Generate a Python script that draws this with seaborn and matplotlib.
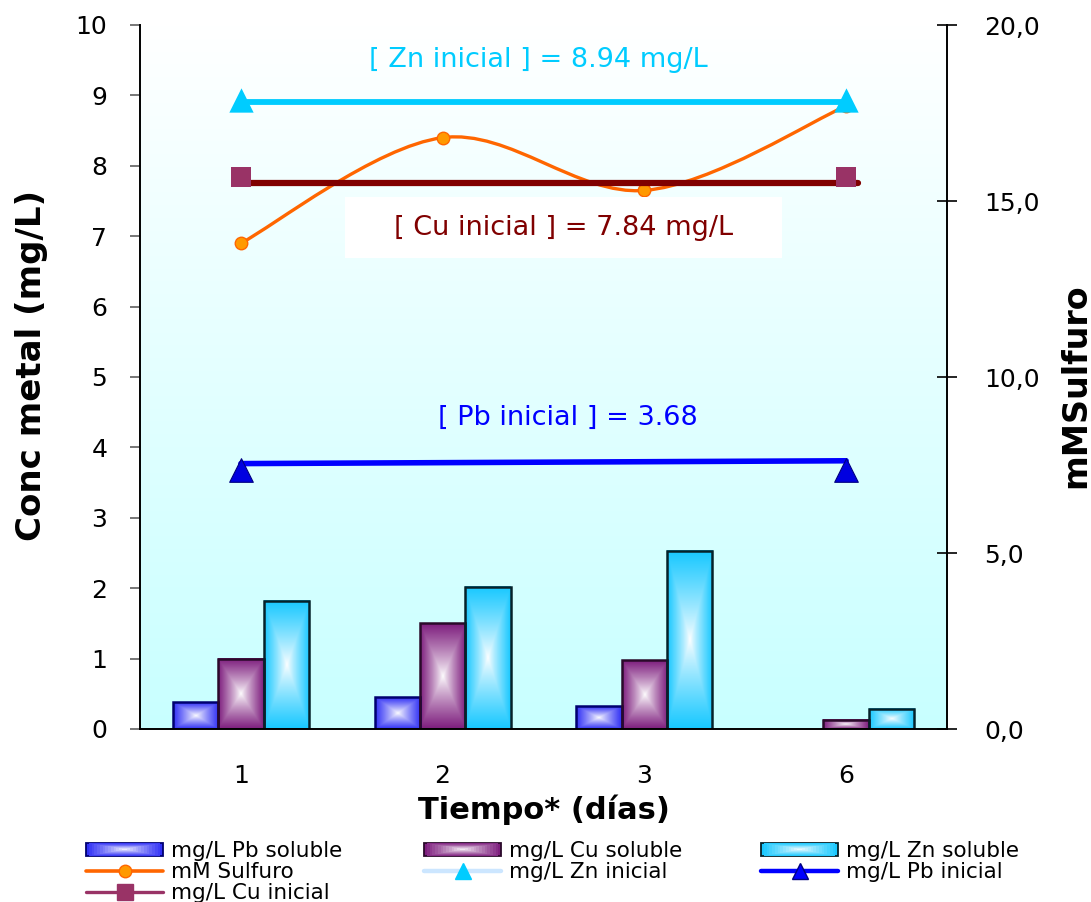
import numpy as np
import pandas as pd
import matplotlib
matplotlib.use("Agg")
import matplotlib.pyplot as plt
import seaborn as sns
import matplotlib.colors as mcolors
from matplotlib.path import Path
from matplotlib.patches import PathPatch, Rectangle
from matplotlib.lines import Line2D
from matplotlib.legend_handler import HandlerBase

# ---------------- data ----------------
tiempo = ["1", "2", "3", "6"]
pb_soluble = [0.38, 0.45, 0.32, 0.0]
cu_soluble = [1.00, 1.50, 0.98, 0.13]
zn_soluble = [1.82, 2.02, 2.53, 0.29]
mm_sulfuro = [13.8, 16.8, 15.3, 17.7]
zn_inicial = [8.94, np.nan, np.nan, 8.94]
pb_inicial = [3.68, np.nan, np.nan, 3.68]
cu_inicial = [7.84, np.nan, np.nan, 7.84]
# level lines drawn by hand on the original chart
zn_linea = [8.90, 8.90]
cu_linea = [7.76, 7.76]
pb_linea = [3.77, 3.81]

series = ["mg/L Pb soluble", "mg/L Cu soluble", "mg/L Zn soluble"]
left_ticks = list(range(0, 11))
right_ticks = [0, 5, 10, 15, 20]

# ---------------- style ----------------
sns.set_style("white")
plt.rcParams["font.family"] = ["DejaVu Sans"]
plt.rcParams["text.color"] = "black"
plt.rcParams["axes.labelcolor"] = "black"
plt.rcParams["xtick.color"] = "black"
plt.rcParams["ytick.color"] = "black"

bar_col = {"mg/L Pb soluble": "#3030F5", "mg/L Cu soluble": "#7E1E7E", "mg/L Zn soluble": "#18C8FF"}
bar_edge = {"mg/L Pb soluble": "#000070", "mg/L Cu soluble": "#2A0A2A", "mg/L Zn soluble": "#06222A"}

fig = plt.figure(figsize=(10.91, 9.02), dpi=100)
rect = [140 / 1091, 1 - 729 / 902, 807 / 1091, 704 / 902]

# background gradient
bg = fig.add_axes(rect, zorder=0)
grad = np.linspace(0, 1, 256)[:, None]
bg.imshow(grad, aspect="auto", extent=[0, 1, 0, 1], origin="upper",
          cmap=mcolors.LinearSegmentedColormap.from_list("bg", ["#FFFFFF", "#C8FFFF"]))
bg.axis("off")

ax = fig.add_axes(rect)
ax2 = ax.twinx()
ax.set_zorder(3)
ax2.set_zorder(2)
ax.patch.set_visible(False)
ax2.patch.set_visible(False)

# ---------------- bars ----------------
df = pd.DataFrame({
    "Tiempo": tiempo * 3,
    "Serie": [s for s in series for _ in tiempo],
    "Valor": pb_soluble + cu_soluble + zn_soluble,
})
sns.barplot(data=df, x="Tiempo", y="Valor", hue="Serie", order=tiempo, hue_order=series,
            palette=bar_col, width=0.673, gap=0, dodge=True, saturation=1,
            legend=False, ax=ax, linewidth=1.8)


def box_gradient(color, nx=80, ny=80, gamma=0.85):
    rgb = np.array(mcolors.to_rgb(color))
    u = np.abs(np.linspace(-1, 1, nx))
    v = np.abs(np.linspace(-1, 1, ny))
    t = np.maximum(u[None, :], v[:, None]) ** gamma
    return (1 - t)[..., None] * np.ones(3) + t[..., None] * rgb


for cont, s in zip(ax.containers, series):
    img = box_gradient(bar_col[s])
    for p in cont.patches:
        h = p.get_height()
        if h <= 0:
            p.set_visible(False)
            continue
        x0, y0, w = p.get_x(), p.get_y(), p.get_width()
        ax.imshow(img, extent=[x0, x0 + w, y0, y0 + h], origin="lower", aspect="auto",
                  interpolation="bilinear", zorder=1.5)
        p.set_facecolor("none")
        p.set_edgecolor(bar_edge[s])
        p.set_zorder(2)

# ---------------- hand-drawn level lines ----------------
sns.lineplot(x=[0, 3], y=zn_linea, ax=ax, color="#00CCFF", lw=4.2, zorder=4, legend=False)
sns.lineplot(x=[0.03, 3.06], y=cu_linea, ax=ax, color="#800000", lw=4.5, zorder=4, legend=False)
sns.lineplot(x=[0, 3], y=pb_linea, ax=ax, color="#0000FF", lw=4.0, zorder=4, legend=False)

pos = np.arange(len(tiempo))
sns.scatterplot(x=pos, y=zn_inicial, ax=ax, marker="^", s=17.5 ** 2, color="#00CCFF",
                linewidth=0, zorder=6, legend=False)
sns.scatterplot(x=pos, y=pb_inicial, ax=ax, marker="^", s=17 ** 2, color="#0000E0",
                edgecolor="#000080", linewidth=0.8, zorder=6, legend=False)
sns.scatterplot(x=pos, y=cu_inicial, ax=ax, marker="s", s=15 ** 2, color="#993366",
                linewidth=0, zorder=6, legend=False)

# ---------------- sulfuro (smoothed, secondary axis) ----------------
P = np.column_stack([pos.astype(float), np.array(mm_sulfuro)])
verts = [P[0]]
codes = [Path.MOVETO]
for i in range(len(P) - 1):
    p0 = P[i - 1] if i > 0 else P[i]
    p1, p2 = P[i], P[i + 1]
    p3 = P[i + 2] if i + 2 < len(P) else P[i + 1]
    verts += [p1 + (p2 - p0) / 6, p2 - (p3 - p1) / 6, p2]
    codes += [Path.CURVE4] * 3
ax2.add_patch(PathPatch(Path(verts, codes), fill=False, edgecolor="#FF6600", lw=2.4,
                        capstyle="round", zorder=3))
sns.scatterplot(x=pos, y=mm_sulfuro, ax=ax2, marker="o", s=9 ** 2, color="#FF9900",
                edgecolor="#FF6600", linewidth=1, zorder=4, legend=False)

# ---------------- annotations ----------------
ax.text(1.475, 9.50, "[ Zn inicial ] = 8.94 mg/L", color="#00CCFF", fontsize=19.5,
        ha="center", va="center", zorder=7)
ax.add_patch(Rectangle((0.515, 6.69), 2.168, 0.87, facecolor="white", edgecolor="none", zorder=3))
ax.text(1.60, 7.12, "[ Cu inicial ] = 7.84 mg/L", color="#800000", fontsize=19.5,
        ha="center", va="center", zorder=7)
ax.text(1.62, 4.42, "[ Pb inicial ] = 3.68", color="#0000FF", fontsize=19.5,
        ha="center", va="center", zorder=7)

# ---------------- axes ----------------
ax.set_xlim(-0.5, 3.5)
ax.set_ylim(0, 10)
ax2.set_ylim(0, 20)

ax.set_xticks(np.arange(-0.5, 4.0, 1.0))
ax.set_xticklabels([])
ax.set_xticks(pos, minor=True)
ax.set_xticklabels(tiempo, minor=True)
ax.tick_params(axis="x", which="major", direction="inout", length=13, width=1.2, color="black")
ax.tick_params(axis="x", which="minor", length=0, pad=25, labelsize=18)

ax.set_yticks(left_ticks)
ax.set_yticklabels([str(t) for t in left_ticks])
ax.tick_params(axis="y", which="major", direction="out", length=7.5, width=1.2,
               color="#606060", pad=16, labelsize=18, left=True, right=False)

ax2.set_yticks(right_ticks)
ax2.set_yticklabels([f"{t:.1f}".replace(".", ",") for t in right_ticks])
ax2.tick_params(axis="y", direction="inout", length=14, width=1.2, color="black",
                pad=20, labelsize=18)

for sp in ["top", "right"]:
    ax.spines[sp].set_visible(False)
for sp in ["top", "left", "bottom"]:
    ax2.spines[sp].set_visible(False)
for sp in ["left", "bottom"]:
    ax.spines[sp].set_color("black")
    ax.spines[sp].set_linewidth(1.4)
ax2.spines["right"].set_color("black")
ax2.spines["right"].set_linewidth(1.4)

ax.set_xlabel("Tiempo* (días)", fontsize=22, fontweight="bold")
ax.xaxis.set_label_coords(0.5, -0.093)
ax.set_ylabel("Conc metal (mg/L)", fontsize=24.5, fontweight="bold")
ax.yaxis.set_label_coords(-0.114, 0.517)
ax2.set_ylabel("mMSulfuro", fontsize=24, fontweight="bold", rotation=90)
ax2.yaxis.set_label_coords(1.139, 0.487)


# ---------------- legend ----------------
class GradHandler(HandlerBase):
    def __init__(self, color, edge):
        super().__init__()
        self.color = np.array(mcolors.to_rgb(color))
        self.edge = edge

    def create_artists(self, legend, orig_handle, xdescent, ydescent, width, height,
                       fontsize, trans):
        arts = []
        n = 14
        for k in range(n):
            f = k / n
            t = (1 - f) ** 0.85
            c = (1 - t) * np.ones(3) + t * self.color
            w = width * (1 - f)
            h = height * (1 - f)
            r = Rectangle((-xdescent + (width - w) / 2, -ydescent + (height - h) / 2), w, h,
                          facecolor=c, edgecolor=self.edge if k == 0 else "none",
                          lw=1.3 if k == 0 else 0, transform=trans)
            arts.append(r)
        return arts


h_pb = Rectangle((0, 0), 1, 1)
h_cu = Rectangle((0, 0), 1, 1)
h_zn = Rectangle((0, 0), 1, 1)
h_sulf = Line2D([], [], color="#FF6600", lw=2.6, marker="o", markersize=9,
                markerfacecolor="#FF9900", markeredgecolor="#FF6600")
h_zni = Line2D([], [], color="#CCE6FF", lw=3.2, marker="^", markersize=12,
               markerfacecolor="#00CCFF", markeredgecolor="#00CCFF")
h_pbi = Line2D([], [], color="#0000FF", lw=3.2, marker="^", markersize=12,
               markerfacecolor="#0000FF", markeredgecolor="#000080")
h_cui = Line2D([], [], color="#993366", lw=2.4, marker="s", markersize=11,
               markerfacecolor="#993366", markeredgecolor="#993366")

hmap = {h_pb: GradHandler(bar_col[series[0]], bar_edge[series[0]]),
        h_cu: GradHandler(bar_col[series[1]], bar_edge[series[1]]),
        h_zn: GradHandler(bar_col[series[2]], bar_edge[series[2]])}

cols = [
    ([h_pb, h_sulf, h_cui], ["mg/L Pb soluble", "mM Sulfuro", "mg/L Cu inicial"], 86),
    ([h_cu, h_zni], ["mg/L Cu soluble", "mg/L Zn inicial"], 424),
    ([h_zn, h_pbi], ["mg/L Zn soluble", "mg/L Pb inicial"], 761),
]
for hs, ls, xpix in cols:
    fig.legend(hs, ls, handler_map=hmap, loc="upper left",
               bbox_to_anchor=(xpix / 1091, 1 - 841 / 902), frameon=False,
               fontsize=15.5, borderpad=0, borderaxespad=0, handlelength=3.58,
               handleheight=0.6, handletextpad=0.38, labelspacing=0.04)

fig.savefig("out.png", dpi=100, facecolor="white")
